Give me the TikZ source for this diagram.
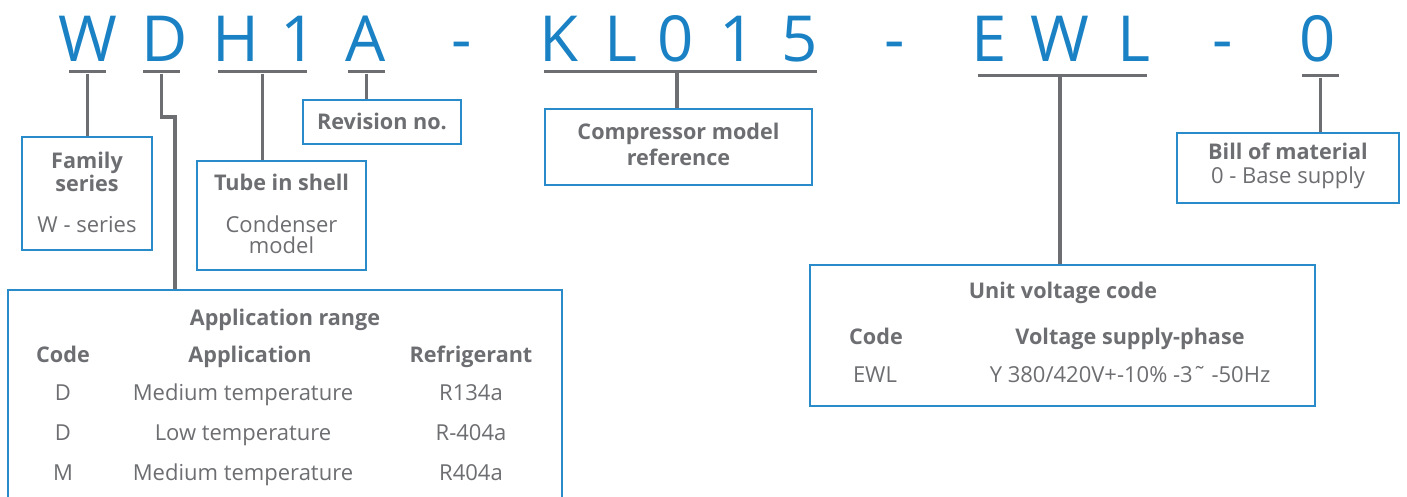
\documentclass[tikz,border=0pt]{standalone}
\usepackage{fontspec}
\setmainfont{Open Sans}
\definecolor{codeblue}{HTML}{1A82C4}
\definecolor{boxblue}{HTML}{2A8BCB}
\definecolor{ink}{HTML}{6D6E71}
\begin{document}
\begin{tikzpicture}[x=1pt,y=-1pt,
  big/.style={anchor=base, inner sep=0, text=codeblue, font=\fontsize{63.5}{63.5}\selectfont},
  bar/.style={fill=ink, inner sep=0, minimum height=3, draw=none},
  conn/.style={draw=ink, line width=3.5},
  box/.style={draw=boxblue, line width=2, inner sep=0, fill=white},
  lbl/.style={anchor=base, inner sep=0, text=ink, font=\fontsize{22}{22}\selectfont},
  blbl/.style={anchor=base, inner sep=0, text=ink, font=\fontsize{21.6}{21.6}\selectfont\bfseries}]
\useasboundingbox (0,0) rectangle (1407,497);
\fill[white] (0,0) rectangle (1407,497);
\clip (0,0) rectangle (1407,497);

% code characters
\node[big] (c1) at (88,62) {W};
\node[big] (c2) at (165,62) {D};
\node[big] (c3) at (236,62) {H};
\node[big] (c4) at (299,62) {1};
\node[big] (c5) at (366,62) {A};
\node[big] (c6) at (462,62) {-};
\node[big] (c7) at (559,62) {K};
\node[big] (c8) at (621,62) {L};
\node[big] (c9) at (676,62) {0};
\node[big] (c10) at (738,62) {1};
\node[big] (c11) at (800,62) {5};
\node[big] (c12) at (895,62) {-};
\node[big] (c13) at (989,62) {E};
\node[big] (c14) at (1060,62) {W};
\node[big] (c15) at (1134,62) {L};
\node[big] (c16) at (1223,62) {-};
\node[big] (c17) at (1318,62) {0};

% underline bars
\node[bar, minimum width=37] (bW) at (87.5,72) {};
\node[bar, minimum width=37] (bD) at (161.5,72) {};
\node[bar, minimum width=89] (bH) at (262.5,72) {};
\node[bar, minimum width=37] (bA) at (366.5,72) {};
\node[bar, minimum width=273] (bK) at (680.5,72) {};
\node[bar, minimum width=169] (bE) at (1062.5,76) {};
\node[bar, minimum width=37] (bZ) at (1320.5,76) {};

% boxes
\node[box, minimum width=130, minimum height=113] (family) at (87,193.5) {};
\node[box, minimum width=169, minimum height=109] (tube) at (281.5,215.5) {};
\node[box, minimum width=158, minimum height=44] (rev) at (382,122) {};
\node[box, minimum width=267, minimum height=76] (comp) at (678.5,147) {};
\node[box, minimum width=222, minimum height=70] (bom) at (1288,168) {};
\node[box, minimum width=505, minimum height=141] (volt) at (1062.5,335.5) {};
\node[box, minimum width=554, minimum height=230] (app) at (285,405) {};

% connectors
\coordinate (dj) at (175,117);
\draw[conn] (bW.south) -- (bW.south |- family.north);
\draw[conn] (bD.south) |- (dj) -- (dj |- app.north);
\draw[conn] (bH.south) -- (bH.south |- tube.north);
\draw[conn] (bA.south) -- (bA.south |- rev.north);
\coordinate (kj) at (677,72);
\draw[conn] (kj) -- (kj |- comp.north);
\coordinate (ej) at (1060,76);
\draw[conn] (ej) -- (ej |- volt.north);
\draw[conn] (bZ.south) -- (bZ.south |- bom.north);

% texts
\node[blbl] (t1) at (382,130) {Revision no.};
\node[blbl] (t2) at (87,168) {Family};
\node[blbl] (t3) at (87,191) {series};
\node[lbl] (t4) at (87,232) {W - series};
\node[blbl] (t5) at (281.5,190) {Tube in shell};
\node[lbl] (t6) at (281.5,232) {Condenser};
\node[lbl] (t7) at (281.5,253) {model};
\node[blbl] (t8) at (678.5,140) {Compressor model};
\node[blbl] (t9) at (678.5,166) {reference};
\node[blbl] (t10) at (1288,160) {Bill of material};
\node[lbl] (t11) at (1288,184) {0 - Base supply};

\node[blbl] (v1) at (1063,298) {Unit voltage code};
\node[blbl] (v2) at (876,344) {Code};
\node[blbl] (v3) at (1130,344) {Voltage supply-phase};
\node[lbl] (v4) at (875,382) {EWL};
\node[lbl] (v5) at (1130,382) {Y 380/420V+-10\% -3\char"02DC{} -50Hz};

\node[blbl] (a0) at (285,325) {Application range};
\node[blbl] (a1) at (63,362) {Code};
\node[blbl] (a2) at (250,362) {Application};
\node[blbl] (a3) at (471,362) {Refrigerant};
\node[lbl] (a4) at (63,400) {D};
\node[lbl] (a5) at (243,400) {Medium temperature};
\node[lbl] (a6) at (471,400) {R134a};
\node[lbl] (a7) at (63,440) {D};
\node[lbl] (a8) at (243,440) {Low temperature};
\node[lbl] (a9) at (471,440) {R-404a};
\node[lbl] (a10) at (63,480) {M};
\node[lbl] (a11) at (243,480) {Medium temperature};
\node[lbl] (a12) at (471,480) {R404a};
\end{tikzpicture}
\end{document}
